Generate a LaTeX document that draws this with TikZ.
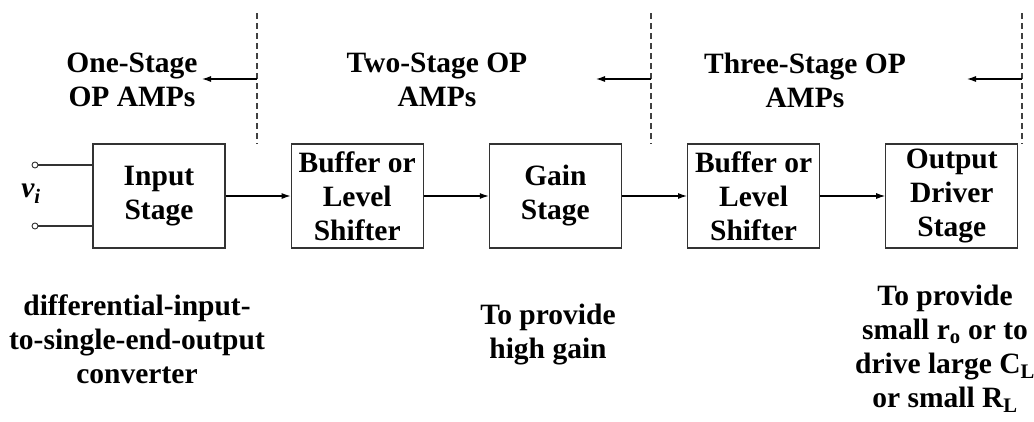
\documentclass[tikz,border=0pt]{standalone}
\usepackage{fontspec}
\setmainfont{Liberation Serif}
\usetikzlibrary{arrows.meta,positioning}
\tikzset{
  stagebox/.style={
    rectangle, draw=black!80, line width=1.2pt,
    minimum width=132pt, minimum height=104pt, inner sep=0pt,
    align=center, font=\fontsize{29.5}{34}\selectfont\bfseries
  },
  notetext/.style={
    align=center, inner sep=0pt,
    font=\fontsize{29.5}{34}\selectfont\bfseries
  },
  terminal/.style={
    circle, draw=black!80, line width=0.9pt, fill=white,
    minimum size=6pt, inner sep=0pt
  },
  flowarrow/.style={
    -{Latex[length=9pt,width=6pt]}, line width=1.1pt, color=black
  },
  borderline/.style={
    dashed, dash pattern=on 6pt off 4pt, line width=1.1pt, color=black!75
  },
}
\begin{document}
\begin{tikzpicture}[x=1pt,y=-1pt]
  \useasboundingbox (0,0) rectangle (1034,421);

  %% Stage boxes (signal path)
  \node[stagebox] (inp) at (159,196) {Input\\Stage};
  \node[stagebox, right=65pt of inp] (buf1) {Buffer or\\Level\\Shifter};
  \node[stagebox, right=65pt of buf1] (gain) {Gain\\Stage};
  \node[stagebox, right=65pt of gain] (buf2) {Buffer or\\Level\\Shifter};
  \node[stagebox, right=65pt of buf2] (outd) {Output\\Driver\\Stage};

  %% Input terminals
  \node[terminal] (tp) at (35,165) {};
  \node[terminal] (tn) at (35,226) {};
  \node[notetext, font=\fontsize{29.5}{34}\selectfont\bfseries\itshape] (vin) at (31,194) {v\textsubscript{i}};
  \draw[line width=1.1pt, black!80] (tp) -- (tp -| inp.west);
  \draw[line width=1.1pt, black!80] (tn) -- (tn -| inp.west);

  \draw[flowarrow] (inp) -- (buf1);
  \draw[flowarrow] (buf1) -- (gain);
  \draw[flowarrow] (gain) -- (buf2);
  \draw[flowarrow] (buf2) -- (outd);

  %% Dividers and class labels (top)
  \coordinate (d1t) at (257,13);   \coordinate (d1b) at (257,144);
  \coordinate (d2t) at (651,13);   \coordinate (d2b) at (651,144);
  \coordinate (d3t) at (1022,13);  \coordinate (d3b) at (1022,144);
  \draw[borderline] (d1t) -- (d1b);
  \draw[borderline] (d2t) -- (d2b);
  \draw[borderline] (d3t) -- (d3b);

  \coordinate (a1) at (257,79);  \coordinate (a1e) at (202,79);
  \coordinate (a2) at (651,79);  \coordinate (a2e) at (596,79);
  \coordinate (a3) at (1022,79); \coordinate (a3e) at (967,79);
  \draw[flowarrow] (a1) -- (a1e);
  \draw[flowarrow] (a2) -- (a2e);
  \draw[flowarrow] (a3) -- (a3e);

  \node[notetext] (one) at (132,80) {One-Stage\\OP AMPs};
  \node[notetext] (two) at (437,80) {Two-Stage OP\\AMPs};
  \node[notetext] (three) at (805,80) {Three-Stage OP\\AMPs};

  %% Stage notes (bottom)
  \node[notetext] (n1) at (137,339) {differential-input-\\to-single-end-output\\converter};
  \node[notetext] (n2) at (548,335) {To provide\\high gain};
  \node[notetext] (n3) at (945,349) {To provide\\small r\textsubscript{o} or to\\drive large C\textsubscript{L}\\or small R\textsubscript{L}};

\end{tikzpicture}
\end{document}
